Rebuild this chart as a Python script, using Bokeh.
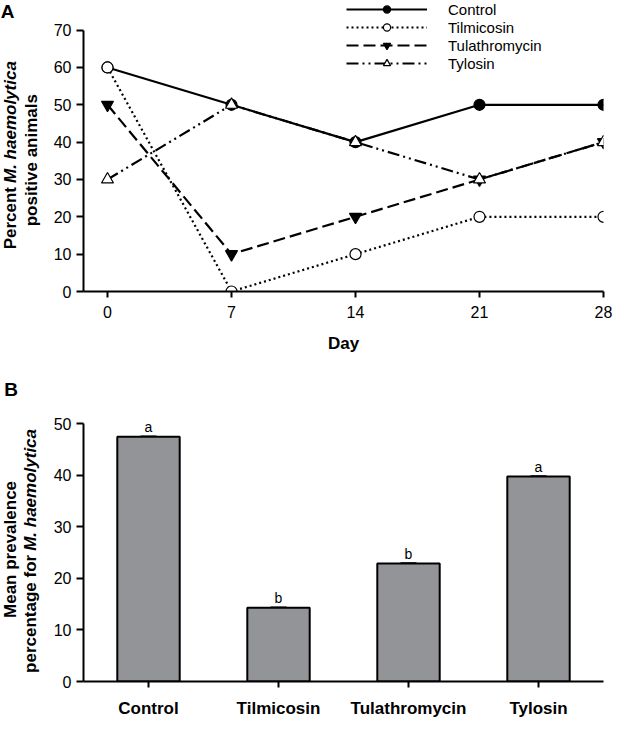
from math import pi
from bokeh.plotting import figure
from bokeh.models import (ColumnDataSource, Legend, LegendItem, FixedTicker,
                          Range1d, FactorRange, Whisker, TeeHead)
from bokeh.layouts import column, row
from bokeh.embed import file_html
from bokeh.resources import INLINE
from bokeh.core.properties import value

# ---------------- data ----------------
days = [0, 7, 14, 21, 28]
control = [60, 50, 40, 50, 50]
tilmicosin = [60, 0, 10, 20, 20]
tulathromycin = [50, 10, 20, 30, 40]
tylosin = [30, 50, 40, 30, 40]
y_ticks_a = [0, 10, 20, 30, 40, 50, 60, 70]

treatments = ["Control", "Tilmicosin", "Tulathromycin", "Tylosin"]
mean_prevalence = [47.5, 14.3, 22.9, 39.8]
std_error = [0.15, 0.15, 0.15, 0.12]
letters = ["a", "b", "b", "a"]
y_ticks_b = [0, 10, 20, 30, 40, 50]

FONT = "Liberation Sans"
W = 614
LABW = 45          # width of the strip holding the rotated axis titles

# ---------------- panel A geometry ----------------
HA = 368
FL, FR = 83, 603   # frame edges (pixels from the left of the page figure)
FBA = 291          # frame bottom (pixels from the top)
day0_px = 107
ppd = (FR - day0_px) / 28.0
xa0 = -(day0_px - FL) / ppd
ppu_a = (FBA - 29.6) / 70.0
ya1 = FBA / ppu_a


def style_axis(ax, tick_out):
    ax.axis_line_width = 2
    ax.axis_line_color = "black"
    ax.major_tick_line_width = 2
    ax.major_tick_line_color = "black"
    ax.major_tick_in = 0
    ax.major_tick_out = tick_out
    ax.minor_tick_line_color = None
    ax.major_label_text_font = FONT
    ax.major_label_text_font_size = "16px"
    ax.major_label_text_color = "black"


def label_strip(h, frame_h):
    # the strip's frame is aligned with the neighbouring plot frame (0..frame_h)
    s = figure(width=LABW, height=h, x_range=Range1d(0, LABW), y_range=Range1d(frame_h, 0),
               output_backend="svg", toolbar_location=None, title=None,
               x_axis_location=None, y_axis_location=None,
               min_border_left=0, min_border_right=0, min_border_top=0,
               min_border_bottom=h - frame_h)
    s.outline_line_color = None
    s.grid.grid_line_color = None
    return s


def put(s, px, py, text, size, style="bold", angle=0.0, align="center"):
    s.text(x=[px], y=[py], text=[text], angle=angle, text_align=align,
           text_baseline="middle", text_font=value(FONT), text_font_size=f"{size}px",
           text_font_style=style, text_color="black")


pa = figure(width=W - LABW, height=HA, x_range=Range1d(xa0, 28), y_range=Range1d(0, ya1),
            output_backend="svg", toolbar_location=None, title=None,
            min_border_left=FL - LABW, min_border_right=W - FR, min_border_top=0,
            min_border_bottom=HA - FBA)
pa.outline_line_color = None
pa.xgrid.grid_line_color = None
pa.ygrid.grid_line_color = None

style_axis(pa.xaxis[0], 6)
style_axis(pa.yaxis[0], 7)
pa.xaxis.ticker = FixedTicker(ticks=days)
pa.yaxis.ticker = FixedTicker(ticks=y_ticks_a)
pa.yaxis.bounds = (0, 70)
pa.xaxis.major_label_standoff = 8
pa.yaxis.major_label_standoff = 5
pa.xaxis.axis_label = "Day"
pa.xaxis.axis_label_text_font = FONT
pa.xaxis.axis_label_text_font_size = "17px"
pa.xaxis.axis_label_text_font_style = "bold"
pa.xaxis.axis_label_text_color = "black"
pa.xaxis.axis_label_standoff = 13

LW = 2.2
r_ctrl_l = pa.line(days, control, line_color="black", line_width=LW)
r_ctrl_m = pa.scatter(days, control, marker="circle", size=11, fill_color="black",
                      line_color="black", line_width=1.2)
r_tula_l = pa.line(days, tulathromycin, line_color="black", line_width=LW, line_dash="12 5")
r_tula_m = pa.scatter(days, tulathromycin, marker="inverted_triangle", size=12,
                      fill_color="black", line_color="black", line_width=1.2)
r_tilm_l = pa.line(days, tilmicosin, line_color="black", line_width=LW, line_dash="2 3")
r_tilm_m = pa.scatter(days, tilmicosin, marker="circle", size=11, fill_color="white",
                      line_color="black", line_width=1.2)
r_tylo_l = pa.line(days, tylosin, line_color="black", line_width=LW, line_dash="12 4 2 4 2 4")
r_tylo_m = pa.scatter(days, tylosin, marker="triangle", size=12, fill_color="white",
                      line_color="black", line_width=1.2)

ROW = 18
legend = Legend(items=[
    LegendItem(label="Control", renderers=[r_ctrl_l, r_ctrl_m]),
    LegendItem(label="Tilmicosin", renderers=[r_tilm_l, r_tilm_m]),
    LegendItem(label="Tulathromycin", renderers=[r_tula_l, r_tula_m]),
    LegendItem(label="Tylosin", renderers=[r_tylo_l, r_tylo_m]),
], location=(263, FBA - 4 * ROW), glyph_width=81, glyph_height=ROW,
    label_height=ROW, spacing=0, padding=0, margin=0, label_standoff=21,
    background_fill_alpha=0, border_line_alpha=0, label_text_font=FONT,
    label_text_font_size="15px", label_text_color="black")
pa.add_layout(legend)

la = label_strip(HA, FBA)
put(la, 7, 11, "A", 19)
put(la, 9.75, 186.5, "Percent", 17, angle=pi / 2, align="right")
put(la, 9.75, 182.5, "M. haemolytica", 17, style="bold italic", angle=pi / 2, align="left")
put(la, 30.9, 159.7, "positive animals", 17, angle=pi / 2)

# ---------------- panel B ----------------
HB = 352
FBB = 316
ppu_b = (FBB - 56) / 50.0
yb1 = FBB / ppu_b

src = ColumnDataSource(data=dict(
    treatment=treatments,
    mean=mean_prevalence,
    upper=[m + e for m, e in zip(mean_prevalence, std_error)],
    letter=letters,
))

pb = figure(width=W - LABW, height=HB, x_range=FactorRange(factors=treatments),
            y_range=Range1d(0, yb1), output_backend="svg", toolbar_location=None,
            title=None, min_border_left=FL - LABW, min_border_right=W - FR,
            min_border_top=0, min_border_bottom=HB - FBB)
pb.outline_line_color = None
pb.xgrid.grid_line_color = None
pb.ygrid.grid_line_color = None

style_axis(pb.xaxis[0], 6)
style_axis(pb.yaxis[0], 7)
pb.yaxis.ticker = FixedTicker(ticks=y_ticks_b)
pb.yaxis.bounds = (0, 50)
pb.yaxis.major_label_standoff = 5
pb.xaxis.major_label_standoff = 11
pb.xaxis.major_label_text_font_style = "bold"
pb.xaxis.major_label_text_font_size = "17px"

pb.vbar(x="treatment", top="mean", width=0.48, source=src, fill_color="#929497",
        line_color="black", line_width=2)
pb.add_layout(Whisker(base="treatment", upper="upper", lower="mean", source=src,
                      dimension="height", line_color="black", line_width=1.2,
                      upper_head=TeeHead(size=16, line_width=1.2, line_color="black"),
                      lower_head=None))
pb.text(x="treatment", y="upper", text="letter", source=src, text_align="center",
        text_baseline="alphabetic", y_offset=-9, text_font=value(FONT),
        text_font_size="14px", text_color="black")

lb = label_strip(HB, FBB)
put(lb, 10.7, 21.5, "B", 19)
put(lb, 9.75, 182.7, "Mean prevalence", 17, angle=pi / 2)
put(lb, 30.2, 188.1, "percentage for", 17, angle=pi / 2, align="right")
put(lb, 30.2, 184.1, "M. haemolytica", 17, style="bold italic", angle=pi / 2, align="left")

layout = column(row(la, pa), row(lb, pb))
open("out.html", "w").write(file_html(layout, INLINE))
